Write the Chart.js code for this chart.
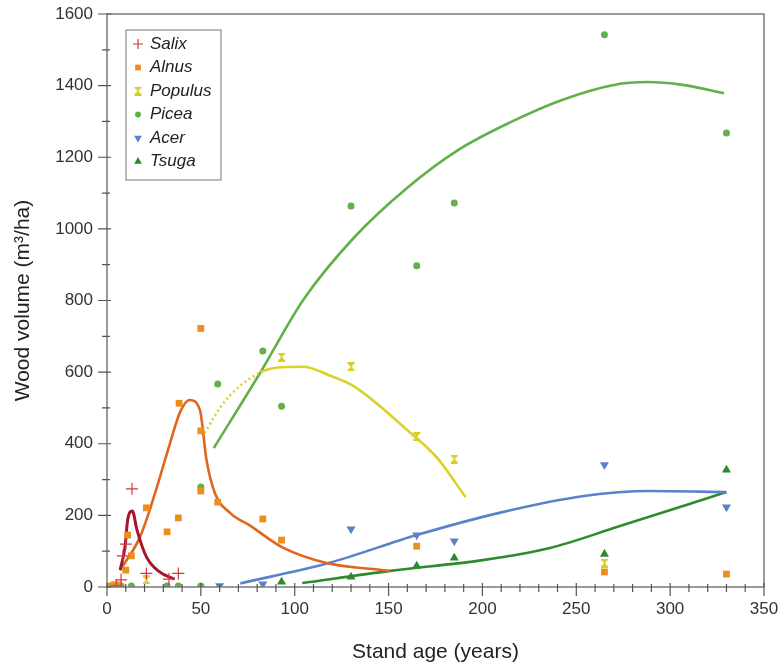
<!DOCTYPE html>
<html>
<head>
<meta charset="utf-8">
<script src="https://cdn.jsdelivr.net/npm/chart.js@4.4.1/dist/chart.umd.min.js"></script>
<style>
  body { margin: 0; background: #fff; }
  #wrap { width: 778px; height: 663px; }
</style>
</head>
<body>
<div id="wrap"><canvas id="woodChart" width="778" height="663"></canvas></div>
<script>
// measured points, one pair of arrays per genus
const salixAge = [5, 7.5, 8.5, 10, 13.3, 21, 33, 38];
const salixVol = [3, 20, 87, 120, 274, 38, 22, 38];
const alnusAge = [2, 4, 6, 10, 11, 13, 21, 32, 38, 38.4, 50, 50, 50, 59, 83, 93, 165, 265, 330];
const alnusVol = [3, 3, 3, 47, 145, 87, 221, 154, 193, 513, 722, 436, 268, 237, 190, 131, 114, 42, 36];
const populusAge = [4, 6, 21, 93, 130, 165, 185, 265];
const populusVol = [5, 5, 20, 642, 615, 420, 357, 67];
const piceaAge = [2.5, 7.5, 13, 32, 38, 50, 50, 59, 83, 93, 130, 165, 185, 265, 330];
const piceaVol = [3, 3, 3, 3, 3, 3, 279, 567, 659, 505, 1064, 897, 1072, 1542, 1268];
const acerAge = [60, 83, 130, 165, 185, 265, 330];
const acerVol = [3, 8, 162, 145, 128, 341, 223];
const tsugaAge = [93, 130, 165, 185, 265, 330];
const tsugaVol = [14, 28, 59, 81, 92, 327];

// fitted curves
const salixFitAge = [7, 9.6, 11, 13.5, 16, 21, 28, 36];
const salixFitVol = [47, 112, 187, 212, 159, 84, 42, 22];
const alnusFitAge = [7, 17.6, 25.6, 33.6, 39, 44, 49.5, 53, 57.5, 66, 76, 94, 117, 151];
const alnusFitVol = [47, 140, 262, 402, 489, 522, 494, 355, 262, 205, 172, 109, 67, 45];
const populusDotAge = [52, 60.6, 69.6, 81.7];
const populusDotVol = [430, 503, 556, 601];
const populusFitAge = [81.7, 90, 104.6, 118, 132, 160, 176, 191];
const populusFitVol = [601, 612, 615, 592, 559, 438, 360, 251];
const piceaFitAge = [56.9, 82.5, 104.6, 132, 160, 187, 215, 242.4, 270, 288, 306.7, 328.7];
const piceaFitVol = [388, 606, 802, 978, 1115, 1220, 1298, 1360, 1402, 1410, 1402, 1379];
const acerFitAge = [71, 118, 165, 209, 254, 289, 330];
const acerFitVol = [10, 67, 145, 207, 254, 268, 265];
const tsugaFitAge = [104, 151, 200, 236, 272, 330];
const tsugaFitVol = [11, 45, 75, 109, 168, 265];

const genusNames = ['Salix', 'Alnus', 'Populus', 'Picea', 'Acer', 'Tsuga'];

function pts(xs, ys) {
  return xs.map((x, i) => ({ x: x, y: ys[i] }));
}

// little I-beam marker used for Populus
function ibeam(color) {
  const c = document.createElement('canvas');
  c.width = 9; c.height = 9;
  const g = c.getContext('2d');
  g.fillStyle = color;
  g.fillRect(1, 0, 7, 2);
  g.fillRect(1, 7, 7, 2);
  g.beginPath();
  g.moveTo(2, 2); g.lineTo(7, 2); g.lineTo(5, 4.5); g.lineTo(7, 7); g.lineTo(2, 7); g.lineTo(4, 4.5);
  g.closePath();
  g.fill();
  return c;
}

const colSalix = '#d8363a', colSalixFit = '#a3162e';
const colAlnus = '#eb8e1c', colAlnusFit = '#e0661e';
const colPopulus = '#d6cf1e', colPopulusFit = '#d8d22a';
const colPicea = '#62b04a';
const colAcer = '#5a82c8';
const colTsuga = '#2f8a2e';

const populusMark = ibeam(colPopulus);

function scatterSet(label, xs, ys, color, style, r, rot) {
  return {
    label: label, data: pts(xs, ys), showLine: false,
    pointStyle: style, pointRadius: r, pointRotation: rot || 0,
    backgroundColor: color, borderColor: color, borderWidth: style === 'cross' ? 1.2 : 0,
    order: 1
  };
}
function fitSet(xs, ys, color, dash, width) {
  return {
    label: '_fit', data: pts(xs, ys), showLine: true, pointRadius: 0,
    borderColor: color, borderWidth: width || 2.6, borderDash: dash || [],
    cubicInterpolationMode: 'monotone', fill: false, order: 2
  };
}

const markerSets = [
  scatterSet('Salix', salixAge, salixVol, colSalix, 'cross', 6),
  scatterSet('Alnus', alnusAge, alnusVol, colAlnus, 'rect', 4.8),
  scatterSet('Populus', populusAge, populusVol, colPopulus, populusMark, 4),
  scatterSet('Picea', piceaAge, piceaVol, colPicea, 'circle', 3.5),
  scatterSet('Acer', acerAge, acerVol, colAcer, 'triangle', 5.2, 180),
  scatterSet('Tsuga', tsugaAge, tsugaVol, colTsuga, 'triangle', 5.2)
];

const frameAndTicks = {
  id: 'frameAndTicks',
  afterDraw(chart) {
    const ctx = chart.ctx, a = chart.chartArea;
    const xs = chart.scales.x, ys = chart.scales.y;
    ctx.save();
    ctx.strokeStyle = '#7a7a7a';
    ctx.lineWidth = 1.5;
    ctx.strokeRect(a.left, a.top, a.right - a.left, a.bottom - a.top);
    ctx.strokeStyle = '#555';
    ctx.lineWidth = 1.2;
    ctx.beginPath();
    for (let v = 0; v <= 350; v += 10) {
      const px = xs.getPixelForValue(v);
      const major = v % 50 === 0;
      ctx.moveTo(px, a.bottom - (major ? 4 : 3));
      ctx.lineTo(px, a.bottom + (major ? 9 : 5));
    }
    for (let v = 0; v <= 1600; v += 100) {
      const py = ys.getPixelForValue(v);
      const major = v % 200 === 0;
      ctx.moveTo(a.left - (major ? 9 : 5), py);
      ctx.lineTo(a.left + (major ? 4 : 3), py);
    }
    ctx.stroke();

    // legend box
    const lx = a.left + 19, ly = a.top + 16, lw = 95, lh = 150;
    ctx.fillStyle = '#fff';
    ctx.fillRect(lx, ly, lw, lh);
    ctx.strokeStyle = '#8a8a8a';
    ctx.lineWidth = 1.2;
    ctx.strokeRect(lx, ly, lw, lh);
    ctx.font = 'italic 17px "Liberation Sans", Arial, sans-serif';
    ctx.textBaseline = 'middle';
    ctx.textAlign = 'left';
    genusNames.forEach((name, i) => {
      const ds = markerSets[i];
      const cy = ly + 14 + i * 23.5;
      ctx.fillStyle = ds.backgroundColor;
      ctx.strokeStyle = ds.borderColor;
      ctx.lineWidth = ds.borderWidth;
      Chart.helpers.drawPoint(ctx, {
        pointStyle: ds.pointStyle, rotation: ds.pointRotation,
        radius: ds.pointStyle === 'cross' ? 5 : ds.pointRadius * 0.85, borderWidth: ds.borderWidth
      }, lx + 12, cy);
      ctx.fillStyle = '#222';
      ctx.fillText(name, lx + 24, cy);
    });
    ctx.restore();
  }
};

const tickFont = { size: 17, family: '"Liberation Sans", Arial, sans-serif' };

new Chart(document.getElementById('woodChart'), {
  type: 'scatter',
  data: {
    datasets: markerSets.concat([
      fitSet(salixFitAge, salixFitVol, colSalixFit, null, 3),
      fitSet(alnusFitAge, alnusFitVol, colAlnusFit),
      fitSet(populusDotAge, populusDotVol, colPopulusFit, [2, 3]),
      fitSet(populusFitAge, populusFitVol, colPopulusFit),
      fitSet(piceaFitAge, piceaFitVol, colPicea),
      fitSet(acerFitAge, acerFitVol, colAcer),
      fitSet(tsugaFitAge, tsugaFitVol, colTsuga)
    ])
  },
  options: {
    responsive: false,
    animation: false,
    layout: { padding: { top: 14, right: 14, left: 0, bottom: 0 } },
    plugins: { legend: { display: false }, tooltip: { enabled: false } },
    scales: {
      x: {
        type: 'linear', min: 0, max: 350,
        ticks: { stepSize: 50, padding: 4, color: '#333', font: tickFont, maxRotation: 0,
                 callback: v => String(v) },
        grid: { display: false },
        border: { display: false },
        title: { display: true, text: 'Stand age (years)', color: '#222', padding: { top: 0, bottom: -2 },
                 font: { size: 21, family: '"Liberation Sans", Arial, sans-serif' } },
        afterFit(scale) { scale.height = 76; scale.paddingLeft = 0; scale.paddingRight = 0; }
      },
      y: {
        type: 'linear', min: 0, max: 1600,
        ticks: { stepSize: 200, padding: 6, color: '#333', font: tickFont,
                 callback: v => String(v) },
        grid: { display: false },
        border: { display: false },
        title: { display: true, text: 'Wood volume (m³/ha)', color: '#222', padding: { top: 11, bottom: 0 },
                 font: { size: 21, family: '"Liberation Sans", Arial, sans-serif' } },
        afterFit(scale) { scale.width = 107; scale.paddingTop = 0; scale.paddingBottom = 0; }
      }
    }
  },
  plugins: [frameAndTicks]
});
</script>
</body>
</html>
